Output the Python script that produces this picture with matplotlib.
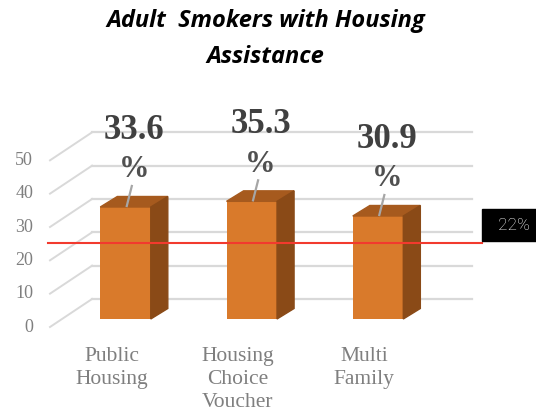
import matplotlib
matplotlib.use("Agg")
import matplotlib.pyplot as plt
from matplotlib.patches import Polygon, Rectangle

# Chart data
categories = ["Public\nHousing", "Housing\nChoice\nVoucher", "Multi\nFamily"]
values = [33.6, 35.3, 30.9]
value_labels = ["33.6\n%", "35.3\n%", "30.9\n%"]
y_ticks = [0, 10, 20, 30, 40, 50]
reference = 22
reference_label = "22%"
title = "Adult  Smokers with Housing\nAssistance"

# Colours
FRONT = "#D97A2B"
TOP = "#A65A1E"
SIDE = "#8A4A17"
GRID = "#D9D9D9"

# Fake 3D geometry (in data units)
BAR_W = 0.40
DEPTH_DX, DEPTH_DY = 0.135, 3.15     # bar depth
WALL_DX, WALL_DY = 0.238, 6.0        # back wall offset from bar plane
FRONT_X, FRONT_DY = -0.598, -2.4     # front edge where tick labels sit
WALL_X0, WALL_X1 = -0.265, 2.745

fig = plt.figure(figsize=(5.36, 4.13), dpi=100)
ax = fig.add_axes([0, 0, 1, 1])
ax.set_xlim(-0.994, 3.251)
ax.set_ylim(-28.2, 95.7)
ax.axis("off")

# back wall gridlines + left side diagonals
for t in y_ticks:
    ax.plot([WALL_X0, WALL_X1], [t + WALL_DY, t + WALL_DY], color=GRID, lw=1.6, zorder=1)
    ax.plot([FRONT_X, WALL_X0], [t + FRONT_DY, t + WALL_DY], color=GRID, lw=1.4, zorder=1)
    ax.text(FRONT_X - 0.134, t + FRONT_DY, str(t), ha="right", va="center",
            fontsize=13, color="#7F7F7F", family="Liberation Serif")

xs = list(range(len(values)))
ax.bar(xs, values, width=BAR_W, color=FRONT, zorder=3)

for x, v, lab, cat in zip(xs, values, value_labels, categories):
    l, r = x - BAR_W / 2, x + BAR_W / 2
    ax.add_patch(Polygon([(l, v), (r, v), (r + DEPTH_DX, v + DEPTH_DY), (l + DEPTH_DX, v + DEPTH_DY)],
                         closed=True, color=TOP, zorder=3))
    ax.add_patch(Polygon([(r, 0), (r, v), (r + DEPTH_DX, v + DEPTH_DY), (r + DEPTH_DX, DEPTH_DY)],
                         closed=True, color=SIDE, zorder=3))
    # leader line and value label
    ax.plot([x + 0.01, x + 0.05], [v + 0.3, v + 6.3], color="#A6A6A6", lw=1.6, zorder=4)
    num, pct = lab.split("\n")
    ax.text(x + 0.07, v + 23.0, num, ha="center", va="center", fontsize=25,
            fontweight="bold", color="#404040", family="Liberation Serif", zorder=5)
    ax.text(x + 0.07, v + 11.2, pct, ha="center", va="center", fontsize=22,
            fontweight="bold", color="#505050", family="Liberation Serif", zorder=5)
    ax.text(x - 0.11, -8.3, cat, ha="center", va="top", fontsize=15.5,
            color="#7F7F7F", family="Liberation Serif", linespacing=1.3)

# reference line and its label box
ax.plot([-0.614, 2.824], [reference + 0.8, reference + 0.8], color="#F23A2E", lw=1.5, zorder=6)
ax.add_patch(Rectangle((2.824, reference + 1.4), 0.43, 9.6, color="black", zorder=6))
ax.text(3.20, reference + 6.2, reference_label, ha="right", va="center", fontsize=12.5,
        color="white", family="Roboto", fontweight="light", zorder=7)

fig.text(0.495, 0.905, title, ha="center", va="center", fontsize=17,
         fontweight="bold", fontstyle="italic", family="Open Sans", linespacing=1.65)

fig.savefig("out.png", dpi=100)
